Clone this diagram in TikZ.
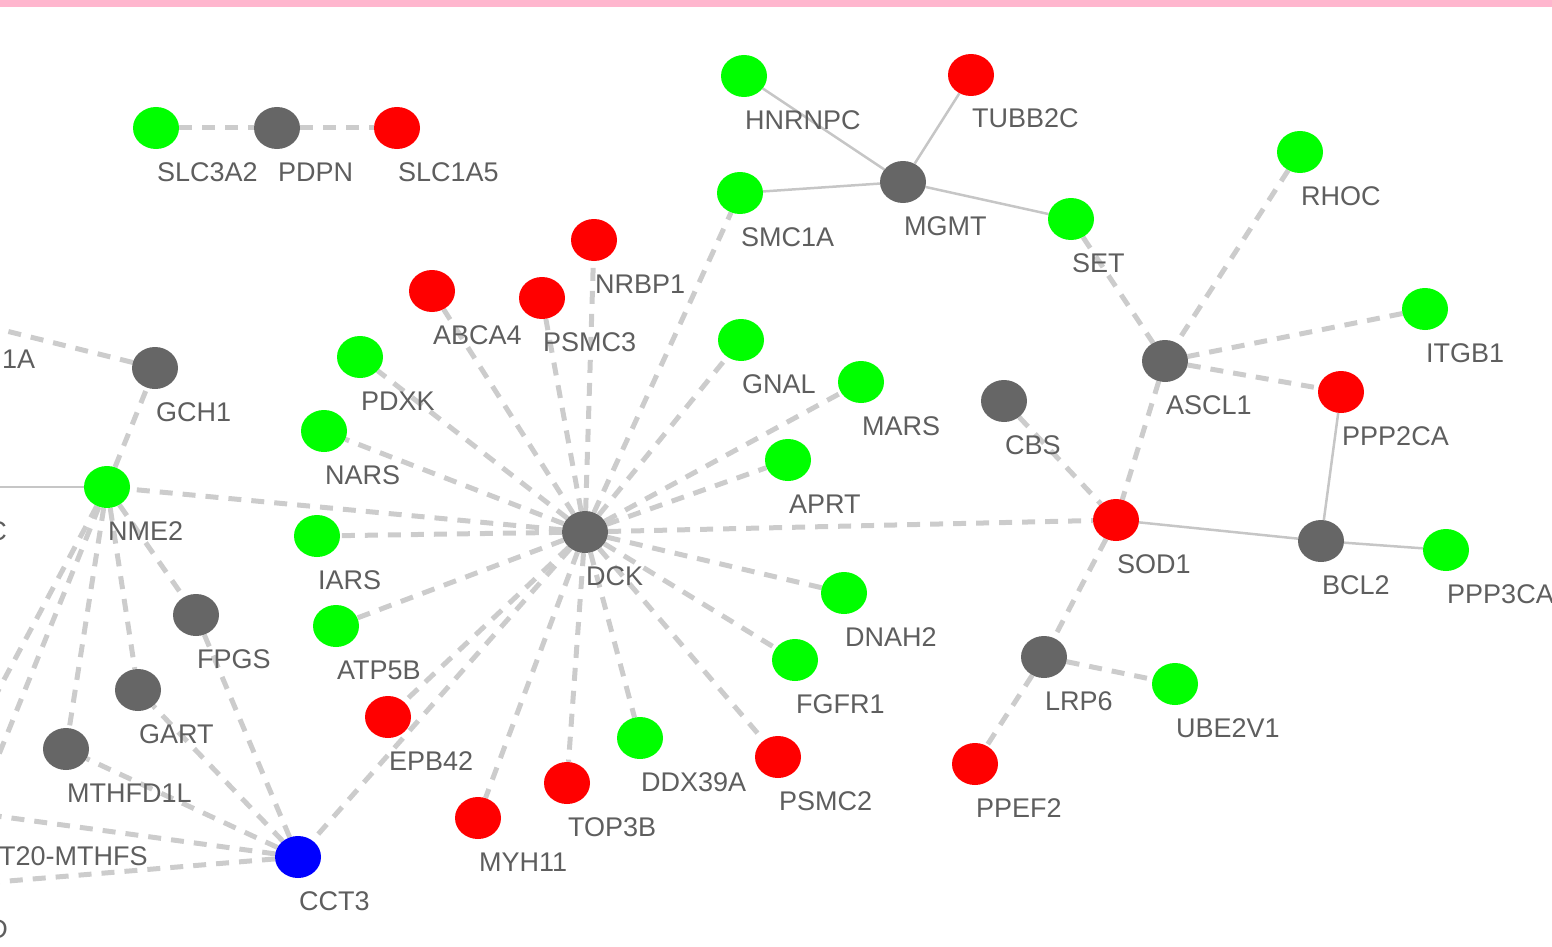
\documentclass[tikz,border=0pt]{standalone}
\usepackage{fontspec}
\setmainfont{Liberation Sans}
\usetikzlibrary{shapes.geometric,backgrounds}
\definecolor{ngreen}{HTML}{00FF00}
\definecolor{nred}{HTML}{FF0000}
\definecolor{ngray}{HTML}{666666}
\definecolor{nblue}{HTML}{0000FF}
\definecolor{edgec}{HTML}{CCCCCC}
\definecolor{solidc}{HTML}{C6C6C6}
\definecolor{labc}{HTML}{5E5E5E}
\definecolor{pinkc}{HTML}{FFB6CE}
\tikzset{
  gene/.style={ellipse, minimum width=46pt, minimum height=42pt, inner sep=0pt, draw=none},
  gg/.style={gene, fill=ngreen},
  gr/.style={gene, fill=nred},
  gk/.style={gene, fill=ngray},
  gb/.style={gene, fill=nblue},
  lbl/.style={anchor=base west, inner sep=0pt, text=labc, font=\fontsize{27}{27}\selectfont},
  lble/.style={lbl, anchor=base east},
  dedge/.style={draw=edgec, line width=5pt, dash pattern=on 13pt off 10pt},
  sedge/.style={draw=solidc, line width=2.5pt}
}
\newcommand{\gnode}[5]{%
  \node[#1] (#2) at (#3,#4) {};
  \node[lbl] (#2-l) at (#3+1,#4+53) {#5};}
\begin{document}
\begin{tikzpicture}[x=1pt,y=-1pt]
\useasboundingbox (0,0) rectangle (1552,947);
\clip (0,0) rectangle (1552,947);
\fill[pinkc] (0,0) rectangle (1552,7);
% nodes
\gnode{gg}{SLC3A2}{156}{128}{SLC3A2}
\gnode{gk}{PDPN}{277}{128}{PDPN}
\gnode{gr}{SLC1A5}{397}{128}{SLC1A5}
\gnode{gg}{HNRNPC}{744}{76}{HNRNPC}
\gnode{gr}{TUBB2C}{971}{75}{TUBB2C}
\gnode{gg}{SMC1A}{740}{193}{SMC1A}
\gnode{gk}{MGMT}{903}{182}{MGMT}
\gnode{gg}{SET}{1071}{219}{SET}
\gnode{gg}{RHOC}{1300}{152}{RHOC}
\gnode{gr}{NRBP1}{594}{240}{NRBP1}
\gnode{gr}{ABCA4}{432}{291}{ABCA4}
\gnode{gr}{PSMC3}{542}{298}{PSMC3}
\gnode{gg}{GNAL}{741}{340}{GNAL}
\gnode{gg}{ITGB1}{1425}{309}{ITGB1}
\gnode{gk}{GCH1}{155}{368}{GCH1}
\gnode{gg}{PDXK}{360}{357}{PDXK}
\gnode{gk}{ASCL1}{1165}{361}{ASCL1}
\gnode{gg}{MARS}{861}{382}{MARS}
\gnode{gr}{PPP2CA}{1341}{392}{PPP2CA}
\gnode{gk}{CBS}{1004}{401}{CBS}
\gnode{gg}{NARS}{324}{431}{NARS}
\gnode{gg}{APRT}{788}{460}{APRT}
\gnode{gg}{NME2}{107}{487}{NME2}
\gnode{gk}{DCK}{585}{532}{DCK}
\gnode{gr}{SOD1}{1116}{520}{SOD1}
\gnode{gg}{IARS}{317}{536}{IARS}
\gnode{gk}{BCL2}{1321}{541}{BCL2}
\gnode{gg}{PPP3CA}{1446}{550}{PPP3CA}
\gnode{gg}{DNAH2}{844}{593}{DNAH2}
\gnode{gk}{FPGS}{196}{615}{FPGS}
\gnode{gg}{ATP5B}{336}{626}{ATP5B}
\gnode{gg}{FGFR1}{795}{660}{FGFR1}
\gnode{gk}{LRP6}{1044}{657}{LRP6}
\gnode{gg}{UBE2V1}{1175}{684}{UBE2V1}
\gnode{gk}{GART}{138}{690}{GART}
\gnode{gr}{EPB42}{388}{717}{EPB42}
\gnode{gg}{DDX39A}{640}{738}{DDX39A}
\gnode{gr}{PSMC2}{778}{757}{PSMC2}
\gnode{gk}{MTHFD1L}{66}{749}{MTHFD1L}
\gnode{gr}{PPEF2}{975}{764}{PPEF2}
\gnode{gr}{TOP3B}{567}{783}{TOP3B}
\gnode{gr}{MYH11}{478}{818}{MYH11}
\gnode{gb}{CCT3}{298}{857}{CCT3}
% off-picture ends and cut labels
\coordinate (offA) at (-58,315);
\coordinate (offC) at (-60,487);
\coordinate (offN1) at (-40,762);
\coordinate (offN2) at (-30,826);
\coordinate (offS) at (-40,811);
\coordinate (offD) at (-40,885);
\node[lbl] (cutA) at (2,368) {1A};
\node[lble] (cutC) at (7,540) {C};
\node[lbl] (cutS) at (-1,865) {T20-MTHFS};
\node[lble] (cutD) at (8,938) {D};
% edges
\begin{scope}[on background layer]
\draw[dedge] (SLC3A2) -- (PDPN);
\draw[dedge] (PDPN) -- (SLC1A5);
\draw[sedge] (HNRNPC) -- (MGMT);
\draw[sedge] (TUBB2C) -- (MGMT);
\draw[sedge] (SMC1A) -- (MGMT);
\draw[sedge] (MGMT) -- (SET);
\draw[dedge] (SET) -- (ASCL1);
\draw[dedge] (RHOC) -- (ASCL1);
\draw[dedge] (ITGB1) -- (ASCL1);
\draw[dedge] (ASCL1) -- (PPP2CA);
\draw[dedge] (ASCL1) -- (SOD1);
\draw[sedge] (PPP2CA) -- (BCL2);
\draw[sedge] (SOD1) -- (BCL2);
\draw[sedge] (BCL2) -- (PPP3CA);
\draw[dedge] (CBS) -- (SOD1);
\draw[dedge] (SOD1) -- (LRP6);
\draw[dedge] (LRP6) -- (UBE2V1);
\draw[dedge] (LRP6) -- (PPEF2);
\draw[dedge] (DCK) -- (SOD1);
\foreach \t in {SMC1A,NRBP1,PSMC3,ABCA4,PDXK,NARS,NME2,IARS,ATP5B,EPB42,CCT3,MYH11,TOP3B,DDX39A,PSMC2,FGFR1,DNAH2,APRT,MARS,GNAL}
  \draw[dedge] (DCK) -- (\t);
\draw[dedge] (GCH1) -- (offA);
\draw[dedge] (NME2) -- (GCH1);
\draw[dedge] (NME2) -- (FPGS);
\draw[dedge] (NME2) -- (GART);
\draw[dedge] (NME2) -- (MTHFD1L);
\draw[dedge] (NME2) -- (offN1);
\draw[dedge] (NME2) -- (offN2);
\draw[sedge] (NME2) -- (offC);
\draw[dedge] (CCT3) -- (FPGS);
\draw[dedge] (CCT3) -- (GART);
\draw[dedge] (CCT3) -- (MTHFD1L);
\draw[dedge] (CCT3) -- (offS);
\draw[dedge] (CCT3) -- (offD);
\end{scope}
\end{tikzpicture}
\end{document}
